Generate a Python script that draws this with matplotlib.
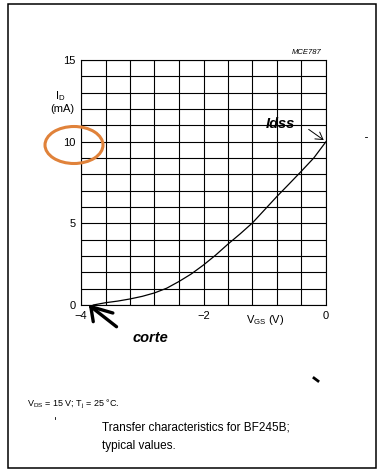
import numpy as np
import matplotlib
matplotlib.use("Agg")
import matplotlib.pyplot as plt
from matplotlib.patches import Rectangle, Ellipse
from matplotlib.lines import Line2D

# Transfer characteristic
VGS = [-3.8, -3.6, -3.4, -3.2, -3.0, -2.8, -2.6, -2.4, -2.2, -2.0, -1.8,
       -1.6, -1.4, -1.2, -1.0, -0.8, -0.6, -0.4, -0.2, 0.0]
ID = [0.0, 0.14, 0.24, 0.37, 0.53, 0.74, 1.03, 1.44, 1.9, 2.45, 3.06,
      3.73, 4.36, 5.03, 5.84, 6.65, 7.42, 8.2, 9.0, 10.0]
X_TICKS = [-4, -2, 0]
X_TICKLABELS = ["\u22124", "\u22122", "0"]
Y_TICKS = [0, 5, 10, 15]

plt.rcParams["font.family"] = ["Liberation Sans", "DejaVu Sans"]

W, H = 380, 474
fig = plt.figure(figsize=(W / 100, H / 100), dpi=100)
fig.patch.set_facecolor("white")


def fx(px):
    return px / W


def fy(py):
    return 1 - py / H


# outer frame
fig.patches.append(Rectangle((fx(8), fy(468)), fx(368), (468 - 4) / H,
                             transform=fig.transFigure, fill=False,
                             ec="black", lw=1.1))

ax = fig.add_axes([fx(81), fy(305), 245 / W, 245 / H])
ax.set_xlim(-4, 0)
ax.set_ylim(0, 15)
ax.set_xticks(np.arange(-4, 0.01, 0.4), minor=True)
ax.set_yticks(np.arange(0, 15.01, 1), minor=True)
ax.set_xticks(X_TICKS)
ax.set_xticklabels(X_TICKLABELS)
ax.set_yticks(Y_TICKS)
ax.grid(which="both", color="black", lw=0.8)
ax.tick_params(which="both", length=0, labelsize=8, pad=4)
for s in ax.spines.values():
    s.set_linewidth(0.8)
ax.plot(VGS, ID, color="black", lw=0.9)

# axis labels
fig.text(fx(60), fy(96), "I$_\\mathregular{D}$", fontsize=8, ha="center", va="center")
fig.text(fx(62), fy(109), "(mA)", fontsize=8, ha="center", va="center")
fig.text(fx(265), fy(320), "V$_\\mathregular{GS}$ (V)", fontsize=8, ha="center", va="center")
fig.text(fx(322), fy(52), "MCE787", fontsize=5.5, style="italic", ha="right", va="center")

# annotations
fig.text(fx(280), fy(124), "Idss", fontsize=10.5, style="italic", weight="bold",
         ha="center", va="center")
ax.annotate("", xy=(0, 10), xytext=(-0.32, 10.85),
            arrowprops=dict(arrowstyle="->,head_length=0.5,head_width=0.3",
                            color="black", lw=0.7))
fig.text(fx(150), fy(338), "corte", fontsize=10.5, style="italic", weight="bold",
         ha="center", va="center")
for ex, ey in [(-3.8, -1.02), (-3.48, -0.49), (-3.42, -1.33)]:
    ax.annotate("", xy=(-3.84, -0.1), xytext=(ex, ey),
                arrowprops=dict(arrowstyle="-", color="black", lw=2.4,
                                shrinkA=0, shrinkB=0),
                annotation_clip=False)

fig.patches.append(Ellipse((fx(74), fy(145)), 58 / W, 37 / H,
                           transform=fig.transFigure, fill=False,
                           ec="#e0823a", lw=2.2))

# stray scan marks
fig.add_artist(Line2D([fx(314), fx(318)], [fy(378), fy(381)],
                      transform=fig.transFigure, color="black", lw=2))
fig.add_artist(Line2D([fx(55), fx(55)], [fy(417), fy(419)],
                      transform=fig.transFigure, color="black", lw=0.6))
fig.add_artist(Line2D([fx(365), fx(367)], [fy(137), fy(137)],
                      transform=fig.transFigure, color="black", lw=0.6))

# captions
fig.text(fx(27), fy(404), "V$_\\mathregular{DS}$ = 15 V; T$_\\mathregular{j}$ = 25 \u00b0C.",
         fontsize=6.5, ha="left", va="center")
fig.text(fx(102), fy(428), "Transfer characteristics for BF245B;",
         fontsize=8.5, ha="left", va="center")
fig.text(fx(102), fy(446), "typical values.", fontsize=8.5, ha="left", va="center")

fig.savefig("out.png", dpi=100, facecolor="white")
